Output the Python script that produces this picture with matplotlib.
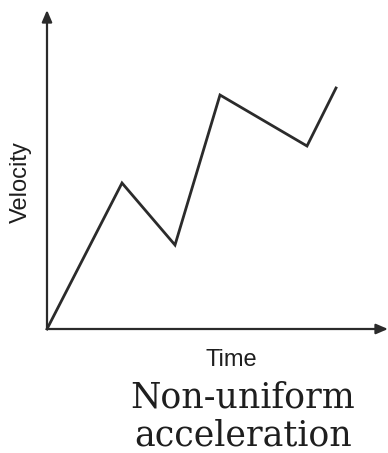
import matplotlib
matplotlib.use("Agg")
import matplotlib.pyplot as plt

# velocity-time sketch, arbitrary units
time = [0, 7.5, 12.8, 17.3, 26.0, 28.9]
velocity = [0, 14.6, 8.4, 23.4, 18.3, 24.1]
XMAX, YMAX = 34.1, 31.9

W, H = 388, 453
fig = plt.figure(figsize=(W / 100, H / 100), dpi=100)
ax = fig.add_axes([47 / W, (H - 329) / H, (W - 47) / W, (329 - 10) / H])
ax.set_xlim(0, XMAX)
ax.set_ylim(0, YMAX)
ax.axis("off")

ink = "#2b2b2b"
ax.plot(time, velocity, c=ink, lw=2.0, solid_joinstyle="miter", clip_on=False)

arrow = dict(arrowstyle="-|>,head_length=0.7,head_width=0.3", color=ink, lw=1.6,
             shrinkA=0, shrinkB=0)
ax.annotate("", xy=(XMAX, 0), xytext=(0, 0), arrowprops=arrow, annotation_clip=False)
ax.annotate("", xy=(0, YMAX), xytext=(0, 0), arrowprops=arrow, annotation_clip=False)

sans = dict(family="Liberation Sans", fontsize=17, color="#1e1e1e")
fig.text(231 / W, 1 - 366 / H, "Time", ha="center", va="baseline", **sans)
fig.text(21 / W, 1 - 182 / H, "Velocity", ha="center", va="center", rotation=90, **sans)

serif = dict(family="DejaVu Serif", fontsize=25, color="#1e1e1e", ha="center", va="baseline")
fig.text(243 / W, 1 - 408 / H, "Non-uniform", **serif)
fig.text(243 / W, 1 - 445 / H, "acceleration", **serif)

fig.savefig("out.png", dpi=100, facecolor="white")
